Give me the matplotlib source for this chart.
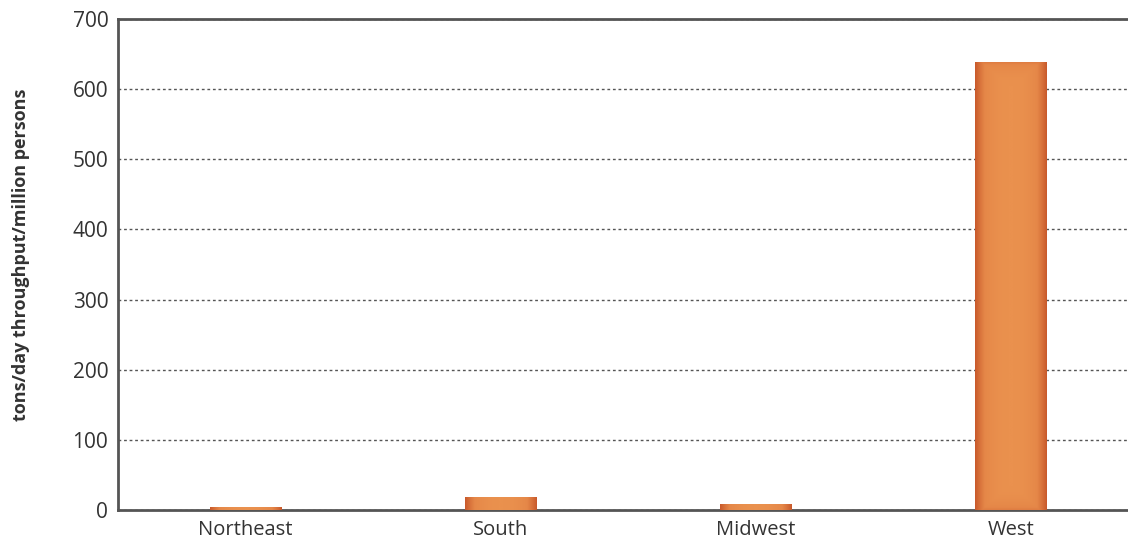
import numpy as np
import matplotlib
matplotlib.use("Agg")
import matplotlib.pyplot as plt
from matplotlib.colors import LinearSegmentedColormap

categories = ["Northeast", "South", "Midwest", "West"]
values = [4, 19, 8, 638]
yticks = [0, 100, 200, 300, 400, 500, 600, 700]
ylabel = "tons/day throughput/million persons"

plt.rcParams['font.family'] = ['Open Sans', 'DejaVu Sans']

fig = plt.figure(figsize=(11.28, 5.4), dpi=100)
ax = fig.add_axes([0.1046, 0.0556, 0.8954, 0.9092])

x = np.arange(len(categories))
bars = ax.bar(x, values, width=0.28, color="#E4824A", edgecolor="none", zorder=2)

cmap = LinearSegmentedColormap.from_list("g", ["#EA914E", "#E58748", "#C8592B"])
for b in bars:
    bx, by = b.get_x(), b.get_y()
    bw, bh = b.get_width(), b.get_height()
    nx, ny = 200, 400
    u = np.linspace(-1, 1, nx)
    v = np.linspace(-1, 1, ny)
    U, V = np.meshgrid(u, v)
    hpx = bh * 0.7014
    edge_v = np.clip((np.abs(V) * hpx / 2 - (hpx / 2 - 25)) / 25, 0, 1) if hpx > 50 else np.zeros_like(V)
    f = np.maximum(np.abs(U) ** 2.2, 0.6 * edge_v ** 2)
    im = ax.imshow(f, cmap=cmap, vmin=0, vmax=1, extent=[bx, bx + bw, by, by + bh],
                   aspect="auto", origin="lower", zorder=3, interpolation="bilinear")
    im.set_clip_path(b)

ax.set_xlim(-0.5, 3.458)
ax.set_ylim(0, 700)
ax.set_yticks(yticks)
ax.set_xticks(x)
ax.set_xticklabels(categories)
ax.tick_params(axis="both", length=0, colors="#333333")
ax.tick_params(axis="x", pad=7, labelsize=14.5)
ax.tick_params(axis="y", pad=7, labelsize=15)

ax.yaxis.grid(True, linestyle=(0, (2, 2)), color="#555555", linewidth=1.0, zorder=1)
ax.set_axisbelow(True)

for s in ["left", "bottom", "top"]:
    ax.spines[s].set_color("#555555")
    ax.spines[s].set_linewidth(2)
ax.spines["right"].set_visible(False)

ax.set_ylabel(ylabel, fontsize=13, fontweight="bold", color="#333333")
ax.yaxis.set_label_coords(-0.087, 0.52)

fig.savefig("out.png", dpi=100)
